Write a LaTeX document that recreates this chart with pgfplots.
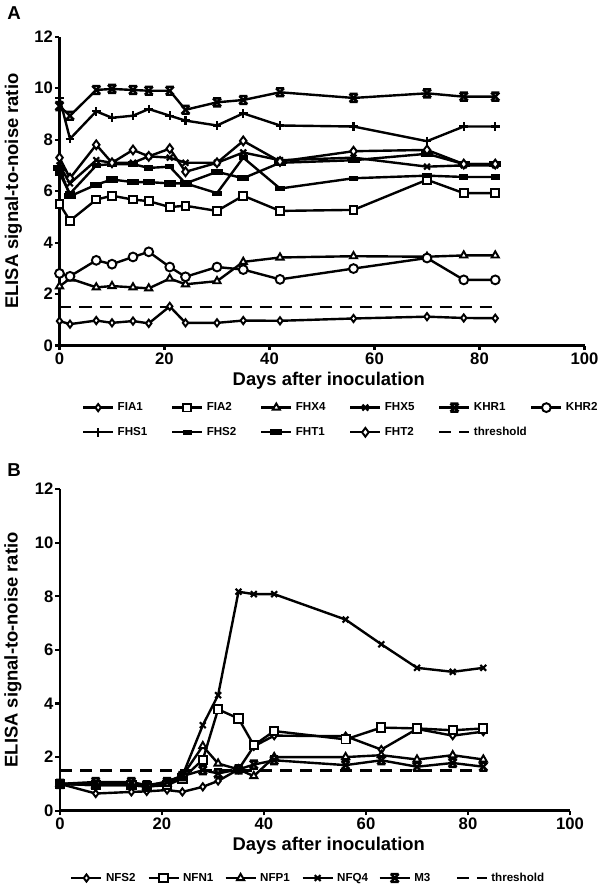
\documentclass[border=0pt]{standalone}
\usepackage{fontspec}
\setmainfont{Liberation Sans}
\usepackage{pgfplots}
\pgfplotsset{compat=1.18}
\usepackage{pgfplotstable}

\pgfdeclareplotmark{bowtie}{%
  \pgfpathmoveto{\pgfqpoint{-\pgfplotmarksize}{-\pgfplotmarksize}}%
  \pgfpathlineto{\pgfqpoint{\pgfplotmarksize}{\pgfplotmarksize}}%
  \pgfpathmoveto{\pgfqpoint{-\pgfplotmarksize}{\pgfplotmarksize}}%
  \pgfpathlineto{\pgfqpoint{\pgfplotmarksize}{-\pgfplotmarksize}}%
  \pgfpathmoveto{\pgfqpoint{-\pgfplotmarksize}{\pgfplotmarksize}}%
  \pgfpathlineto{\pgfqpoint{\pgfplotmarksize}{\pgfplotmarksize}}%
  \pgfpathmoveto{\pgfqpoint{-\pgfplotmarksize}{-\pgfplotmarksize}}%
  \pgfpathlineto{\pgfqpoint{\pgfplotmarksize}{-\pgfplotmarksize}}%
  \pgfusepathqstroke}
\pgfdeclareplotmark{hrect}{%
  \pgfpathrectangle{\pgfqpoint{-\pgfplotmarksize}{-0.4\pgfplotmarksize}}{\pgfqpoint{2\pgfplotmarksize}{0.8\pgfplotmarksize}}%
  \pgfusepathqfillstroke}

\pgfplotstableread{
d FIA1 FIA2 FHX4 FHX5 KHR1 KHR2 FHS1 FHS2 FHT1 FHT2
0 0.95 5.50 2.30 7.00 9.30 2.80 9.62 6.70 6.90 7.30
2 0.83 4.85 2.60 6.30 8.93 2.69 8.03 5.90 5.80 6.50
7 0.97 5.67 2.26 7.20 9.93 3.31 9.10 7.00 6.25 7.80
10 0.88 5.82 2.31 7.10 9.97 3.16 8.85 7.05 6.45 7.10
14 0.95 5.67 2.26 7.10 9.93 3.44 8.93 7.05 6.35 7.60
17 0.86 5.61 2.22 7.35 9.90 3.64 9.19 6.90 6.35 7.35
21 1.52 5.38 2.60 7.30 9.90 3.05 8.93 6.95 6.30 7.65
24 0.88 5.43 2.38 7.10 9.16 2.67 8.74 6.30 6.30 6.75
30 0.88 5.23 2.50 7.10 9.45 3.05 8.55 5.92 6.75 7.10
35 0.97 5.82 3.25 7.50 9.54 2.95 9.02 7.30 6.50 7.95
42 0.96 5.23 3.42 7.20 9.84 2.57 8.55 6.10 7.10 7.15
56 1.05 5.27 3.47 7.30 9.62 2.99 8.51 6.50 7.20 7.55
70 1.12 6.44 3.45 6.95 9.80 3.40 7.94 6.60 7.45 7.60
77 1.07 5.92 3.50 7.00 9.67 2.55 8.51 6.55 7.05 7.05
83 1.06 5.92 3.50 7.00 9.67 2.55 8.51 6.55 7.05 7.05
}\dataA

\pgfplotstableread{
d NFS2 NFN1 NFP1 NFQ4 M3
0 1.00 1.00 1.00 1.00 1.00
7 0.64 0.95 0.95 1.00 1.07
14 0.70 0.95 0.95 1.00 1.07
17 0.72 0.90 0.90 0.90 0.95
21 0.77 0.95 1.00 1.10 1.07
24 0.70 1.20 1.30 1.30 1.29
28 0.89 1.90 2.41 3.19 1.51
31 1.11 3.78 1.76 4.31 1.39
35 1.54 3.44 1.54 8.17 1.54
38 2.40 2.44 1.29 8.08 1.72
42 2.80 2.97 2.00 8.08 1.88
56 2.78 2.66 2.00 7.13 1.70
63 2.28 3.10 2.07 6.21 1.88
70 3.05 3.07 1.91 5.33 1.64
77 2.80 3.00 2.07 5.18 1.78
83 2.95 3.07 1.91 5.33 1.64
}\dataB

\newcommand\LA[1]{\makebox[37.5pt][l]{#1}}
\newcommand\LB[1]{\makebox[28.5pt][l]{#1}}

\pgfplotsset{
  panel/.style={
    scale only axis,
    xmin=0, xmax=100, ymin=0, ymax=12,
    axis x line*=bottom, axis y line*=left,
    axis line style={line width=2.1pt, -},
    xtick={0,20,...,100}, ytick={0,2,...,12},
    minor tick num=0,
    tick align=outside,
    major tick length=3.5pt,
    tick style={line width=1.6pt, black},
    clip=false,
    /pgf/number format/assume math mode=true,
    ticklabel style={font=\bfseries\fontsize{12.5}{12.5}\selectfont},
    xticklabel style={inner sep=1.5pt},
    yticklabel style={inner xsep=1.2pt},
    label style={font=\bfseries\fontsize{13.8}{14}\selectfont},
    legend style={draw=none, fill=none, inner sep=0pt,
      font=\bfseries\fontsize{8.7}{9}\selectfont,
      nodes={inner xsep=2.5pt, inner ysep=0pt, text height=6.3pt, text depth=1.7pt},
      /tikz/column sep=0pt, /tikz/row sep=10.5pt},
    legend cell align=left,
    legend image code/.code={\draw[mark repeat=2,mark phase=2,##1] plot coordinates {(0pt,0pt) (11.25pt,0pt) (22.5pt,0pt)};},
    every axis plot/.append style={line width=1.8pt, black, mark options={solid, line width=1.45pt, fill=white}},
  },
  thr/.style={dash pattern=on 9pt off 6pt, line width=1.8pt},
}

\begin{document}
\begin{tikzpicture}[x=1pt,y=1pt]
\useasboundingbox (0,0) rectangle (450,-663.75);
\node[font=\bfseries\fontsize{14}{14}\selectfont] at (10.5,-9.5) {A};
\node[font=\bfseries\fontsize{14}{14}\selectfont] at (10.5,-352.5) {B};

\begin{axis}[panel,
  at={(44.625pt,-259.125pt)}, anchor=south west,
  width=393.75pt, height=231.6pt,
  xlabel={Days after inoculation},
  ylabel={ELISA signal-to-noise ratio},
  xlabel style={at={(axis description cs:0.513,-0.115)}, anchor=center},
  ylabel style={at={(axis description cs:-0.0877,0.5)}, anchor=center, rotate=0},
  legend columns=6,
  legend style={at={(axis description cs:0.0423,-0.183)}, anchor=north west},
]
\addplot[mark=diamond*, mark size=2.7pt] table[x=d,y=FIA1]{\dataA};
\addlegendentry{\LA{FIA1}}
\addplot[mark=square*, mark size=2.9pt] table[x=d,y=FIA2]{\dataA};
\addlegendentry{\LA{FIA2}}
\addplot[mark=triangle*, mark size=3.1pt] table[x=d,y=FHX4]{\dataA};
\addlegendentry{\LA{FHX4}}
\addplot[mark=x, mark size=3.1pt, mark options={line width=1.6pt}] table[x=d,y=FHX5]{\dataA};
\addlegendentry{\LA{FHX5}}
\addplot[mark=bowtie, mark size=3pt, mark options={line width=1.8pt}] table[x=d,y=KHR1]{\dataA};
\addlegendentry{\LA{KHR1}}
\addplot[mark=*, mark size=3.3pt] table[x=d,y=KHR2]{\dataA};
\addlegendentry{\LA{KHR2}}
\addplot[mark=+, mark size=3.2pt, mark options={line width=1.7pt}] table[x=d,y=FHS1]{\dataA};
\addlegendentry{\LA{FHS1}}
\addplot[mark=hrect, mark size=2.6pt, mark options={fill=black}] table[x=d,y=FHS2]{\dataA};
\addlegendentry{\LA{FHS2}}
\addplot[mark=hrect, mark size=3.6pt, mark options={fill=black}] table[x=d,y=FHT1]{\dataA};
\addlegendentry{\LA{FHT1}}
\addplot[mark=diamond*, mark size=3.3pt] table[x=d,y=FHT2]{\dataA};
\addlegendentry{\LA{FHT2}}
\addplot[thr] coordinates {(0,1.5) (83,1.5)};
\addlegendentry{threshold}
\end{axis}

\begin{axis}[panel,
  at={(45pt,-608pt)}, anchor=south west,
  width=382.5pt, height=241.2pt,
  xlabel={Days after inoculation},
  ylabel={ELISA signal-to-noise ratio},
  xlabel style={at={(axis description cs:0.527,-0.110)}, anchor=center},
  ylabel style={at={(axis description cs:-0.0922,0.5)}, anchor=center},
  legend columns=6,
  legend style={at={(axis description cs:0.0196,-0.192)}, anchor=north west},
]
\addplot[mark=diamond*, mark size=2.7pt] table[x=d,y=NFS2]{\dataB};
\addlegendentry{\LB{NFS2}}
\addplot[mark=square*, mark size=3.1pt] table[x=d,y=NFN1]{\dataB};
\addlegendentry{\LB{NFN1}}
\addplot[mark=triangle*, mark size=3.1pt] table[x=d,y=NFP1]{\dataB};
\addlegendentry{\LB{NFP1}}
\addplot[mark=x, mark size=3.1pt, mark options={line width=1.6pt}] table[x=d,y=NFQ4]{\dataB};
\addlegendentry{\LB{NFQ4}}
\addplot[mark=bowtie, mark size=3pt, mark options={line width=1.8pt}] table[x=d,y=M3]{\dataB};
\addlegendentry{\LB{M3}}
\addplot[thr] coordinates {(0,1.5) (83,1.5)};
\addlegendentry{threshold}
\end{axis}
\end{tikzpicture}
\end{document}
